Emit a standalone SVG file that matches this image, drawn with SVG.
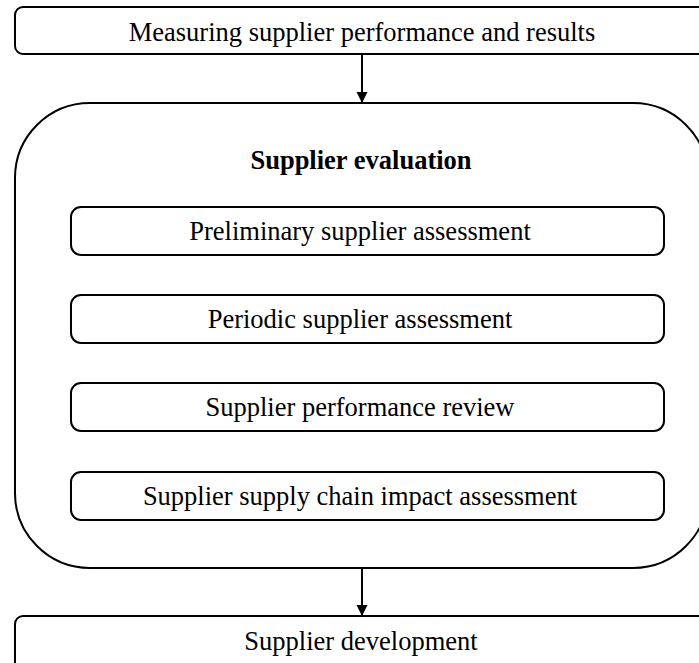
<svg xmlns="http://www.w3.org/2000/svg" width="699" height="663" viewBox="0 0 699 663">
  <defs>
    <marker id="arrow" markerUnits="userSpaceOnUse" markerWidth="11" markerHeight="13" refX="10" refY="5.5" orient="auto">
      <path d="M0,0 L11,5.5 L0,11 Z" fill="#000"/>
    </marker>
    <style>
      .box { fill: #fff; stroke: #000; stroke-width: 2; }
      .lbl { font-family: "Liberation Serif", "Times New Roman", serif; font-size: 26.5px; fill: #000; text-anchor: middle; }
      .title { font-weight: bold; }
      .conn { stroke: #000; stroke-width: 2; fill: none; marker-end: url(#arrow); }
    </style>
  </defs>
  <rect width="699" height="663" fill="#fff"/>

  <g id="measuring">
    <rect class="box" x="15" y="7" width="693" height="47" rx="8"/>
    <text class="lbl" x="362" y="41">Measuring supplier performance and results</text>
  </g>

  <g id="evaluation">
    <rect class="box" x="15" y="103" width="693" height="465" rx="75"/>
    <text class="lbl title" x="361" y="169">Supplier evaluation</text>
  </g>

  <g id="preliminary">
    <rect class="box" x="71" y="207" width="593" height="48" rx="10"/>
    <text class="lbl" x="360" y="240">Preliminary supplier assessment</text>
  </g>

  <g id="periodic">
    <rect class="box" x="71" y="295" width="593" height="48" rx="10"/>
    <text class="lbl" x="360" y="328">Periodic supplier assessment</text>
  </g>

  <g id="review">
    <rect class="box" x="71" y="383" width="593" height="48" rx="10"/>
    <text class="lbl" x="360" y="416">Supplier performance review</text>
  </g>

  <g id="impact">
    <rect class="box" x="71" y="472" width="593" height="48" rx="10"/>
    <text class="lbl" x="360" y="505">Supplier supply chain impact assessment</text>
  </g>

  <g id="development">
    <rect class="box" x="15" y="616" width="693" height="60" rx="8"/>
    <text class="lbl" x="361" y="650">Supplier development</text>
  </g>

  <g id="connectors">
    <line class="conn" x1="362" y1="55" x2="362" y2="102"/>
    <line class="conn" x1="362" y1="569" x2="362" y2="615"/>
  </g>
</svg>
